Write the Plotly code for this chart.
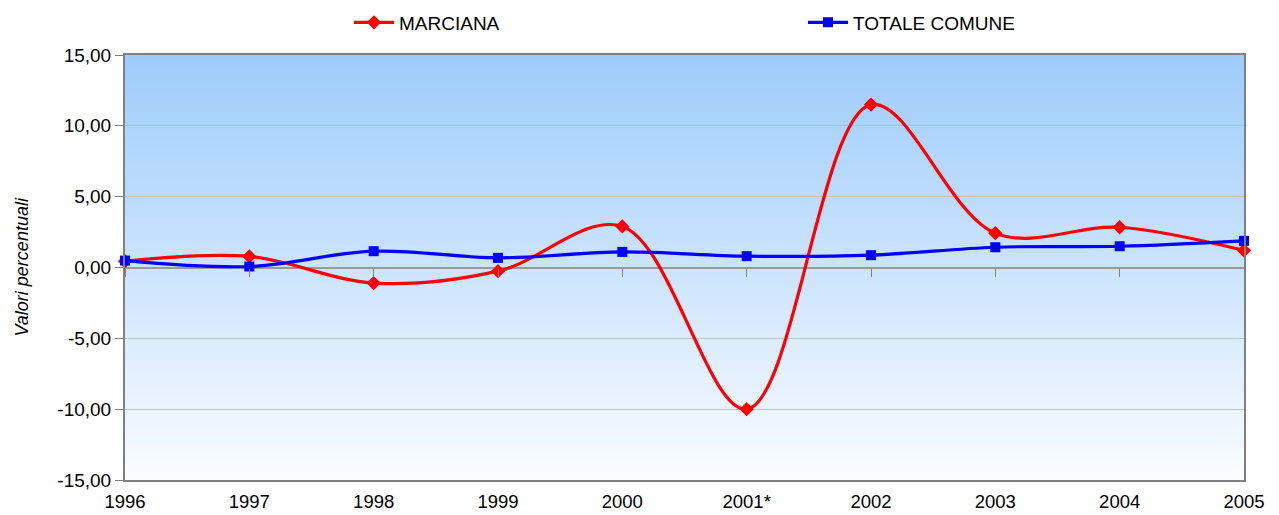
import plotly.graph_objects as go

years = ["1996", "1997", "1998", "1999", "2000", "2001*", "2002", "2003", "2004", "2005"]
marciana = [0.45, 0.78, -1.10, -0.26, 2.90, -10.00, 11.50, 2.42, 2.84, 1.20]
totale = [0.49, 0.07, 1.15, 0.68, 1.10, 0.80, 0.87, 1.43, 1.50, 1.88]
y_ticks = [-15, -10, -5, 0, 5, 10, 15]
y_tick_labels = ["-15,00", "-10,00", "-5,00", "0,00", "5,00", "10,00", "15,00"]

fig = go.Figure()

# gradient background strips
n = 60
top = (158, 204, 251)
bot = (250, 252, 255)
for i in range(n):
    t = i / (n - 1)
    c = tuple(int(round(top[k] + (bot[k] - top[k]) * t)) for k in range(3))
    fig.add_shape(type="rect", xref="x domain", yref="y domain",
                  x0=0, x1=1, y0=max(0, 1 - (i + 1.6) / n), y1=1 - i / n,
                  fillcolor="rgb(%d,%d,%d)" % c, line_width=0, layer="below")

fig.add_trace(go.Scatter(x=years, y=marciana, name="MARCIANA", mode="lines+markers",
                         line=dict(color="#FF0000", width=3.2, shape="spline", smoothing=1.0),
                         marker=dict(symbol="diamond", size=11, color="#FF0000"),
                         cliponaxis=False, legend="legend"))
fig.add_trace(go.Scatter(x=years, y=totale, name="TOTALE COMUNE", mode="lines+markers",
                         line=dict(color="#0000FF", width=3.2, shape="spline", smoothing=1.0),
                         marker=dict(symbol="square", size=10, color="#0000FF"),
                         cliponaxis=False, legend="legend2"))

font = "Liberation Sans, Arial, sans-serif"
W, H = 1271, 507
L, T = 117, 47
PW, PH = 1119, 425
leg_common = dict(orientation="h", xanchor="left", y=1 + 32.5 / PH, yanchor="middle",
                  font=dict(size=19), bgcolor="rgba(0,0,0,0)", itemwidth=40)
fig.update_layout(
    width=W, height=H,
    margin=dict(l=L, r=W - L - PW, t=T, b=H - T - PH, autoexpand=False),
    paper_bgcolor="white", plot_bgcolor="rgba(0,0,0,0)",
    separators=",.",
    font=dict(family=font, size=19, color="black"),
    showlegend=True,
    legend=dict(x=224 / PW, **leg_common),
    legend2=dict(x=678 / PW, **leg_common),
    xaxis=dict(type="category", categoryorder="array", categoryarray=years,
               range=[0, len(years) - 1], showgrid=False, zeroline=False,
               showline=True, linecolor="#808080", linewidth=2, mirror=True,
               ticks="", tickfont=dict(size=18.5), ticklabelstandoff=4),
    xaxis2=dict(type="category", categoryorder="array", categoryarray=years,
                range=[0, len(years) - 1], overlaying="x", anchor="free", position=0.5,
                showgrid=False, zeroline=False, showline=False, showticklabels=False,
                ticks="outside", ticklen=8, tickcolor="#808080", tickwidth=1),
    yaxis=dict(range=[-15, 15], tickvals=y_ticks, ticktext=y_tick_labels,
               showgrid=True, gridcolor="#C0C0C0", gridwidth=1,
               zeroline=True, zerolinecolor="#999999", zerolinewidth=2,
               showline=True, linecolor="#808080", linewidth=2, mirror=True,
               ticks="outside", ticklen=8, tickcolor="#808080",
               tickfont=dict(size=19)),
    annotations=[dict(text="Valori percentuali", xref="paper", yref="paper",
                      x=(21 - 8 - L) / PW, y=0.5, xanchor="center", yanchor="middle",
                      textangle=-90, showarrow=False,
                      font=dict(size=18, style="italic", family=font))],
)
fig.add_trace(go.Scatter(x=years, y=[None] * len(years), xaxis="x2", showlegend=False,
                         hoverinfo="skip", mode="lines"))

fig.write_html("out.html")
